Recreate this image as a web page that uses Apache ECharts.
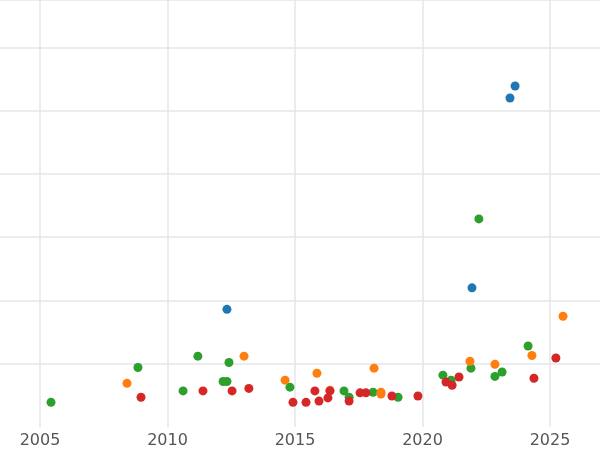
<!DOCTYPE html>
<html><head><meta charset="utf-8">
<script src="https://cdn.jsdelivr.net/npm/echarts@6/dist/echarts.min.js"></script>
<style>html,body{margin:0;padding:0;background:#fff}#c{width:600px;height:450px}</style>
</head><body><div id="c"></div>
<script>
const xTicks = [2005, 2010, 2015, 2020, 2025];
const blue = [[2012.33,1.86],[2021.94,2.20],[2023.43,5.20],[2023.63,5.39]];
const green = [[2005.43,0.39],[2008.84,0.94],[2010.61,0.57],[2011.19,1.12],[2012.18,0.72],[2012.33,0.72],[2012.41,1.02],[2014.80,0.63],[2016.92,0.57],[2017.12,0.47],[2018.06,0.55],[2019.04,0.47],[2020.80,0.82],[2021.12,0.74],[2021.90,0.93],[2022.21,3.29],[2022.84,0.80],[2023.12,0.87],[2024.14,1.28]];
const orange = [[2008.41,0.69],[2013.00,1.12],[2014.61,0.74],[2015.86,0.85],[2016.37,0.58],[2018.10,0.93],[2018.37,0.55],[2018.37,0.52],[2021.86,1.04],[2022.84,0.99],[2024.29,1.13],[2025.51,1.75]];
const red = [[2008.96,0.47],[2011.39,0.57],[2012.53,0.57],[2013.19,0.61],[2014.92,0.39],[2015.43,0.39],[2015.78,0.57],[2015.94,0.41],[2016.29,0.46],[2016.37,0.57],[2017.12,0.41],[2017.55,0.54],[2017.78,0.54],[2018.80,0.49],[2019.82,0.49],[2020.92,0.71],[2021.16,0.66],[2021.43,0.79],[2024.37,0.77],[2025.23,1.09]];
const chart = echarts.init(document.getElementById('c'));
const mk = (d, c) => ({type:'scatter', data:d, symbolSize:9, itemStyle:{color:c, opacity:1}});
chart.setOption({
  animation:false,
  grid:{left:0,right:0,top:0,bottom:23},
  xAxis:{type:'value',min:2003.43,max:2026.96,
    axisLine:{show:false},
    axisTick:{show:false,customValues:xTicks},
    axisLabel:{customValues:xTicks,formatter:v=>String(Math.round(v)),color:'#555',fontSize:16,fontFamily:'DejaVu Sans',margin:6},
    splitLine:{show:true,lineStyle:{color:'#e6e6e6',width:1.5}}},
  yAxis:{type:'value',min:0,max:6.75,interval:1,
    axisLine:{show:false},axisTick:{show:false},axisLabel:{show:false},
    splitLine:{showMinLine:false,lineStyle:{color:'#e6e6e6',width:1.5}}},
  series:[mk(blue,'#1f77b4'),mk(green,'#2ca02c'),mk(orange,'#ff7f0e'),mk(red,'#d62728')]
});
</script></body></html>
